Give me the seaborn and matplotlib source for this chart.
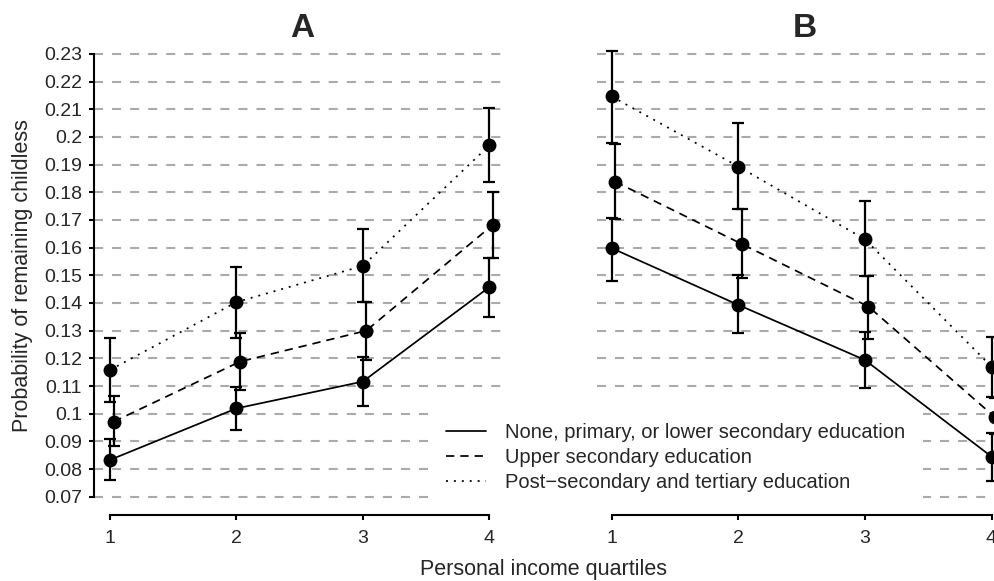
import numpy as np
import pandas as pd
import matplotlib
matplotlib.use("Agg")
import matplotlib.pyplot as plt
from matplotlib.lines import Line2D
import seaborn as sns

# ---------------- data ----------------
quartiles = [1, 2, 3, 4]
education = ["None, primary, or lower secondary education",
             "Upper secondary education",
             "Post\u2212secondary and tertiary education"]
panels = ["A", "B"]
yticks = [0.07, 0.08, 0.09, 0.10, 0.11, 0.12, 0.13, 0.14, 0.15, 0.16,
          0.17, 0.18, 0.19, 0.20, 0.21, 0.22, 0.23]
ytick_labels = ["0.07", "0.08", "0.09", "0.1", "0.11", "0.12", "0.13", "0.14",
                "0.15", "0.16", "0.17", "0.18", "0.19", "0.2", "0.21", "0.22", "0.23"]

# Panel A
a_low_est = [0.0833, 0.1019, 0.1116, 0.1457]
a_low_lo = [0.0759, 0.0941, 0.1029, 0.1351]
a_low_hi = [0.0907, 0.1098, 0.1204, 0.1563]
a_upp_est = [0.0971, 0.1188, 0.1300, 0.1682]
a_upp_lo = [0.0884, 0.1086, 0.1194, 0.1562]
a_upp_hi = [0.1065, 0.1290, 0.1405, 0.1800]
a_post_est = [0.1158, 0.1403, 0.1534, 0.1969]
a_post_lo = [0.1043, 0.1275, 0.1405, 0.1836]
a_post_hi = [0.1272, 0.1531, 0.1666, 0.2104]

# Panel B
b_low_est = [0.1598, 0.1393, 0.1194, 0.0845]
b_low_lo = [0.1480, 0.1291, 0.1092, 0.0758]
b_low_hi = [0.1706, 0.1501, 0.1294, 0.0930]
b_upp_est = [0.1838, 0.1613, 0.1387, 0.0987]
b_upp_lo = [0.1703, 0.1489, 0.1269, 0.0925]
b_upp_hi = [0.1975, 0.1739, 0.1499, 0.1055]
b_post_est = [0.2146, 0.1893, 0.1630, 0.1170]
b_post_lo = [0.1977, 0.1739, 0.1499, 0.1061]
b_post_hi = [0.2312, 0.2049, 0.1770, 0.1278]

# ---------------- table ----------------
series = {
    ("A", education[0]): (a_low_est, a_low_lo, a_low_hi),
    ("A", education[1]): (a_upp_est, a_upp_lo, a_upp_hi),
    ("A", education[2]): (a_post_est, a_post_lo, a_post_hi),
    ("B", education[0]): (b_low_est, b_low_lo, b_low_hi),
    ("B", education[1]): (b_upp_est, b_upp_lo, b_upp_hi),
    ("B", education[2]): (b_post_est, b_post_lo, b_post_hi),
}
dodge = {education[0]: 0.0, education[1]: 0.028, education[2]: 0.0}
rows = []
for (pan, edu), (est, lo, hi) in series.items():
    for q, e, l, h in zip(quartiles, est, lo, hi):
        rows.append(dict(panel=pan, education=edu, quartile=q,
                         x=q + dodge[edu], est=e, lo=l, hi=h))
df = pd.DataFrame(rows)

# ---------------- style ----------------
sns.set_theme(style="white")
plt.rcParams["font.family"] = ["Liberation Sans", "DejaVu Sans"]
plt.rcParams["lines.scale_dashes"] = False

W, H = 995, 581
fig = plt.figure(figsize=(W / 100, H / 100), dpi=100)

def px_rect(left, top, right, bottom):
    return [left / W, 1 - bottom / H, (right - left) / W, (bottom - top) / H]

axA = fig.add_axes(px_rect(94, 40, 502, 515))
axB = fig.add_axes(px_rect(597, 40, 1005, 515))

DASHED = (6.0, 4.3)
DOTTED = (1.4, 4.3)
dash_map = {education[0]: "", education[1]: DASHED, education[2]: DOTTED}
pal = {e: "black" for e in education}
mk = {e: "o" for e in education}

for ax, pan in [(axA, "A"), (axB, "B")]:
    sub = df[df.panel == pan]
    sns.lineplot(data=sub, x="x", y="est", hue="education", style="education",
                 palette=pal, dashes=dash_map, markers=mk, markersize=10,
                 markeredgewidth=0, linewidth=1.25, errorbar=None,
                 legend=False, ax=ax, zorder=3)
    for edu in education:
        s = sub[sub.education == edu]
        ax.errorbar(s.x, s.est, yerr=[s.est - s.lo, s.hi - s.est], fmt="none",
                    ecolor="black", elinewidth=1.6, capsize=4.2, capthick=1.6,
                    zorder=4)
    ax.set_ylim(0.0634, 0.235)
    ax.set_yticks(yticks)
    ax.set_xticks(quartiles)
    ax.set_xticklabels([str(q) for q in quartiles])
    ax.yaxis.grid(True, color="#aaaaaa", linewidth=1.5, linestyle=(0, (6.5, 6.5)))
    ax.xaxis.grid(False)
    ax.set_axisbelow(True)
    ax.set_xlabel("")
    ax.set_ylabel("")
    for sp in ["top", "right"]:
        ax.spines[sp].set_visible(False)
    ax.spines["bottom"].set_bounds(1, 4)
    ax.spines["bottom"].set_linewidth(1.5)
    ax.spines["bottom"].set_color("black")
    ax.tick_params(axis="x", direction="out", length=3.5, width=1.5, color="black",
                   labelsize=14, pad=7, bottom=True)
    ax.set_title(pan, fontsize=24, fontweight="bold", pad=2, x=0.51)
    ax.patch.set_alpha(0)

axA.set_xlim(1 - 16 / 126.4, 1 - 16 / 126.4 + 408 / 126.4)
axB.set_xlim(1 - 14.7 / 126.6, 1 - 14.7 / 126.6 + 408 / 126.6)

axA.set_yticklabels(ytick_labels)
axA.spines["left"].set_bounds(0.07, 0.23)
axA.spines["left"].set_linewidth(1.5)
axA.spines["left"].set_color("black")
axA.tick_params(axis="y", direction="out", length=3.5, width=1.5, color="black",
                labelsize=14, pad=5, left=True)

axB.spines["left"].set_visible(False)
axB.set_yticklabels([])
axB.tick_params(axis="y", length=0, left=False)

fig.text(23 / W, 1 - 276 / H, "Probability of remaining childless", rotation=90,
         ha="center", va="center", fontsize=15.5)
fig.text(544 / W, 1 - 570 / H, "Personal income quartiles",
         ha="center", va="center", fontsize=15.5)

handles = [Line2D([], [], color="black", lw=1.25, linestyle="-"),
           Line2D([], [], color="black", lw=1.25, linestyle=(0, DASHED)),
           Line2D([], [], color="black", lw=1.25, linestyle=(0, DOTTED))]
leg = fig.legend(handles, education, loc="upper left",
                 bbox_to_anchor=(428 / W, 1 - 405 / H), fontsize=14.5,
                 frameon=True, fancybox=False, framealpha=1, facecolor="white",
                 edgecolor="white", borderpad=0.9, borderaxespad=0,
                 handlelength=2.0, handletextpad=0.9, labelspacing=0.3)
leg.get_frame().set_linewidth(0)
leg.set_zorder(10)

fig.savefig("out.png", dpi=100)
